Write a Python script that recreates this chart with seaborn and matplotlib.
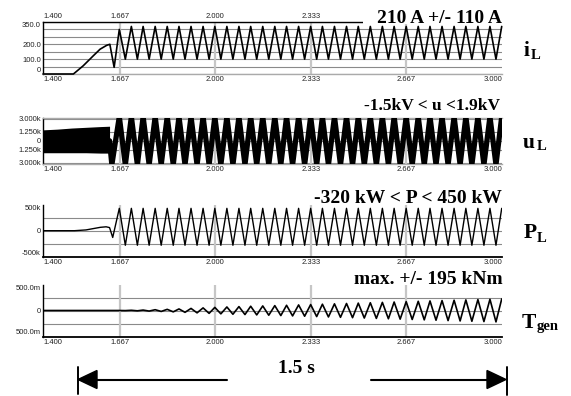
import numpy as np
import pandas as pd
import matplotlib
matplotlib.use("Agg")
import matplotlib.pyplot as plt
from matplotlib.patches import Polygon, Rectangle
import seaborn as sns

sns.set_theme(style="white")
plt.rcParams["font.family"] = ["Liberation Sans", "DejaVu Sans"]

# ---------------- data ----------------
time_ticks = [1.400, 1.667, 2.000, 2.333, 2.667, 3.000]
time_tick_labels = ["1.400", "1.667", "2.000", "2.333", "2.667", "3.000"]
time_grid = [1.667, 2.000, 2.333, 2.667]

# times of the oscillation maxima / minima (s)
peak_times = [1.666, 1.708, 1.749, 1.791, 1.833, 1.874, 1.916, 1.958, 1.999,
              2.041, 2.083, 2.124, 2.166, 2.208, 2.249, 2.291, 2.333, 2.374,
              2.416, 2.458, 2.499, 2.541, 2.583, 2.624, 2.666, 2.708, 2.749,
              2.791, 2.833, 2.874, 2.916, 2.958, 2.999]
trough_times = [1.687, 1.729, 1.770, 1.812, 1.854, 1.895, 1.937, 1.979,
                2.020, 2.062, 2.104, 2.145, 2.187, 2.229, 2.270, 2.312,
                2.354, 2.395, 2.437, 2.479, 2.520, 2.562, 2.604, 2.645,
                2.687, 2.729, 2.770, 2.812, 2.854, 2.895, 2.937, 2.979]

# i_L (A)
iL_start_t = [1.400, 1.506, 1.540, 1.575, 1.599, 1.622, 1.633, 1.648]
iL_start_v = [0, 0, 55, 122, 167, 193, 200, 45]
iL_peaks = [300] + [320] * 32
iL_troughs = [100] * 32

# u_L (V): dense switching band before 1.63 s, then swinging +/- 3 kV
uL_band_t = [1.400, 1.450, 1.500, 1.550, 1.600, 1.632]
uL_band_hi = [1500, 1600, 1750, 1850, 1950, 2000]
uL_band_lo = [-1650, -1650, -1650, -1650, -1700, -1700]
uL_start_t = [1.632, 1.640]
uL_start_v = [0, -3300]
uL_peaks = [3300] * 33
uL_troughs = [-3300] * 32

# P_L (W)
PL_start_t = [1.400, 1.510, 1.550, 1.580, 1.600, 1.620, 1.632, 1.643]
PL_start_v = [0, 0, 15e3, 45e3, 65e3, 75e3, 60e3, -130e3]
PL_peaks = [430e3] * 33
PL_troughs = [-280e3] * 32

# T_gen (MNm)
TG_start_t = [1.400, 1.645]
TG_start_v = [0.0, 0.0]
TG_peaks = [0.0, 0.004, 0.008, 0.015, 0.022, 0.030, 0.040, 0.050, 0.060,
            0.068, 0.075, 0.082, 0.088, 0.094, 0.100, 0.107, 0.114, 0.121,
            0.128, 0.135, 0.142, 0.149, 0.156, 0.163, 0.170, 0.177, 0.184,
            0.191, 0.198, 0.204, 0.210, 0.216, 0.222]
TG_troughs = [-0.002, -0.006, -0.011, -0.018, -0.026, -0.035, -0.045, -0.055,
              -0.064, -0.072, -0.078, -0.085, -0.091, -0.097, -0.104, -0.110,
              -0.117, -0.124, -0.131, -0.138, -0.145, -0.152, -0.159, -0.166,
              -0.173, -0.180, -0.187, -0.194, -0.201, -0.207, -0.213, -0.219]

titles = ["210 A +/- 110 A", "-1.5kV < u <1.9kV", "-320 kW < P < 450 kW", "max. +/- 195 kNm"]
span_label = "1.5 s"


def wave(start_t, start_v, peaks_v, troughs_v):
    t = list(start_t)
    v = list(start_v)
    for k, pt in enumerate(peak_times):
        t.append(pt)
        v.append(peaks_v[k])
        if k < len(trough_times):
            t.append(trough_times[k])
            v.append(troughs_v[k])
    return pd.DataFrame({"t": t, "v": v})


W, H = 571, 396
fig = plt.figure(figsize=(W / 100, H / 100), dpi=100)
fig.patch.set_facecolor("white")


def axes_px(x0, y0, x1, y1):
    return fig.add_axes([x0 / W, 1 - y1 / H, (x1 - x0) / W, (y1 - y0) / H])


def style_axis(ax, ylim, yticks, ylabels, hgrid, spine_cols, top_labels=False):
    ax.set_xlim(1.4, 3.0)
    ax.set_ylim(*ylim)
    ax.set_facecolor("white")
    ax.set_xlabel("")
    ax.set_ylabel("")
    for y in hgrid:
        ax.axhline(y, color="#8a8a8a", lw=0.8, zorder=1)
    for x in time_grid:
        ax.axvline(x, color="#c6c6c6", lw=1.6, zorder=1)
    ax.set_xticks(time_ticks)
    ax.set_xticklabels(time_tick_labels)
    ax.set_yticks(yticks)
    ax.set_yticklabels(ylabels)
    ax.tick_params(axis="x", length=0, pad=1.5, labelsize=5.5, labelcolor="#222222",
                   labeltop=top_labels)
    ax.tick_params(axis="y", length=0, pad=1.5, labelsize=5.5, labelcolor="#222222")
    n = len(time_ticks)
    for i, tk in enumerate(ax.xaxis.get_major_ticks()):
        ha = "left" if i == 0 else ("right" if i == n - 1 else "center")
        tk.label1.set_horizontalalignment(ha)
        tk.label2.set_horizontalalignment(ha)
        if top_labels and i >= n - 2:
            # these top labels sit under the panel title in the reference
            tk.label2.set_visible(False)
    for side, col in spine_cols.items():
        if col is None:
            ax.spines[side].set_visible(False)
        else:
            ax.spines[side].set_visible(True)
            ax.spines[side].set_color(col)
            ax.spines[side].set_linewidth(1.3 if (col == "black" and side == "bottom") else 1.0)
    ax.grid(False)


# ---- panel 1: i_L ----
ax1 = axes_px(43, 22, 502, 74)
df1 = wave(iL_start_t, iL_start_v, iL_peaks, iL_troughs)
sns.lineplot(data=df1, x="t", y="v", ax=ax1, color="black", lw=1.2, sort=False,
             estimator=None, zorder=3, clip_on=False)
style_axis(ax1, (0, 350), [350, 200, 100, 0], ["350.0", "200.0", "100.0", "0"],
           [0, 50, 100, 150, 200, 250, 300, 350],
           {"left": "black", "top": "black", "bottom": "#aaaaaa", "right": None},
           top_labels=True)

# ---- panel 2: u_L ----
ax2 = axes_px(43, 117.5, 502, 164)
ax2.fill_between(uL_band_t, uL_band_lo, uL_band_hi, color="black", lw=0, zorder=3)
df2 = wave(uL_start_t, uL_start_v, uL_peaks, uL_troughs)
sns.lineplot(data=df2, x="t", y="v", ax=ax2, color="black", lw=3.8, sort=False,
             estimator=None, zorder=3)
style_axis(ax2, (-3200, 3200), [3000, 1250, 0, -1250, -3000],
           ["3.000k", "1.250k", "0", "1.250k", "3.000k"],
           [3000, 1250, 0, -1250, -3000],
           {"left": "black", "top": "#aaaaaa", "bottom": "#aaaaaa", "right": None})

# ---- panel 3: P_L ----
ax3 = axes_px(43, 204.7, 502, 256.7)
df3 = wave(PL_start_t, PL_start_v, PL_peaks, PL_troughs)
sns.lineplot(data=df3, x="t", y="v", ax=ax3, color="black", lw=1.0, sort=False,
             estimator=None, zorder=3)
style_axis(ax3, (-500e3, 500e3), [500e3, 0, -500e3], ["500k", "0", "-500k"],
           [250e3, 0, -250e3],
           {"left": "black", "top": None, "bottom": "black", "right": None})

# ---- panel 4: T_gen ----
ax4 = axes_px(43, 284.5, 502, 336.5)
df4 = wave(TG_start_t, TG_start_v, TG_peaks, TG_troughs)
sns.lineplot(data=df4, x="t", y="v", ax=ax4, color="black", lw=1.2, sort=False,
             estimator=None, zorder=3)
style_axis(ax4, (-0.5, 0.5), [0.5, 0, -0.5], ["500.0m", "0", "500.0m"],
           [0.25, 0, -0.25],
           {"left": "black", "top": None, "bottom": "black", "right": None})

# y tick label vertical alignment: outer labels tucked inside the frame
for ax in (ax1, ax3, ax4):
    labs = ax.get_yticklabels()
    labs[0].set_verticalalignment("top")
    labs[-1].set_verticalalignment("bottom")

# ---- overlay for titles, side labels and span arrows ----
ov = fig.add_axes([0, 0, 1, 1], zorder=10)
ov.set_xlim(0, W)
ov.set_ylim(H, 0)
ov.axis("off")
ov.patch.set_alpha(0)

serif = dict(family="Liberation Serif", weight="bold", color="black")

ov.add_patch(Rectangle((363, 3), 143, 20.5, facecolor="white", edgecolor="none"))
ov.text(502, 23.3, titles[0], ha="right", va="baseline", fontsize=14, **serif)
ov.text(500, 110, titles[1], ha="right", va="baseline", fontsize=12.5, **serif)
ov.text(502, 203.3, titles[2], ha="right", va="baseline", fontsize=14, **serif)
ov.text(503, 284, titles[3], ha="right", va="baseline", fontsize=14, **serif)

side = [("i", "L", 524, 55.5, 530.5, 59),
        ("u", "L", 523, 147.5, 536.5, 150.5),
        ("P", "L", 524, 238.5, 537, 241.5),
        ("T", "gen", 522, 327.5, 537, 330)]
for main, sub, x0, y0, x1, y1 in side:
    ov.text(x0, y0, main, ha="left", va="baseline", fontsize=15.5, **serif)
    ov.text(x1, y1, sub, ha="left", va="baseline", fontsize=10.5, **serif)

# span arrows
ay = 379.5
ov.plot([77.5, 77.5], [367, 394], color="black", lw=1.4)
ov.plot([506.5, 506.5], [367, 395], color="black", lw=1.4)
ov.plot([96, 227], [ay, ay], color="black", lw=1.5)
ov.plot([371, 488], [ay, ay], color="black", lw=1.5)
ov.add_patch(Polygon([[78, ay], [97, ay - 9], [97, ay + 9]], closed=True,
                     facecolor="black", edgecolor="black"))
ov.add_patch(Polygon([[506, ay], [487, ay - 9], [487, ay + 9]], closed=True,
                     facecolor="black", edgecolor="black"))
ov.text(278, 373.3, span_label, ha="left", va="baseline", fontsize=14, **serif)

fig.savefig("out.png", dpi=100, facecolor="white")
